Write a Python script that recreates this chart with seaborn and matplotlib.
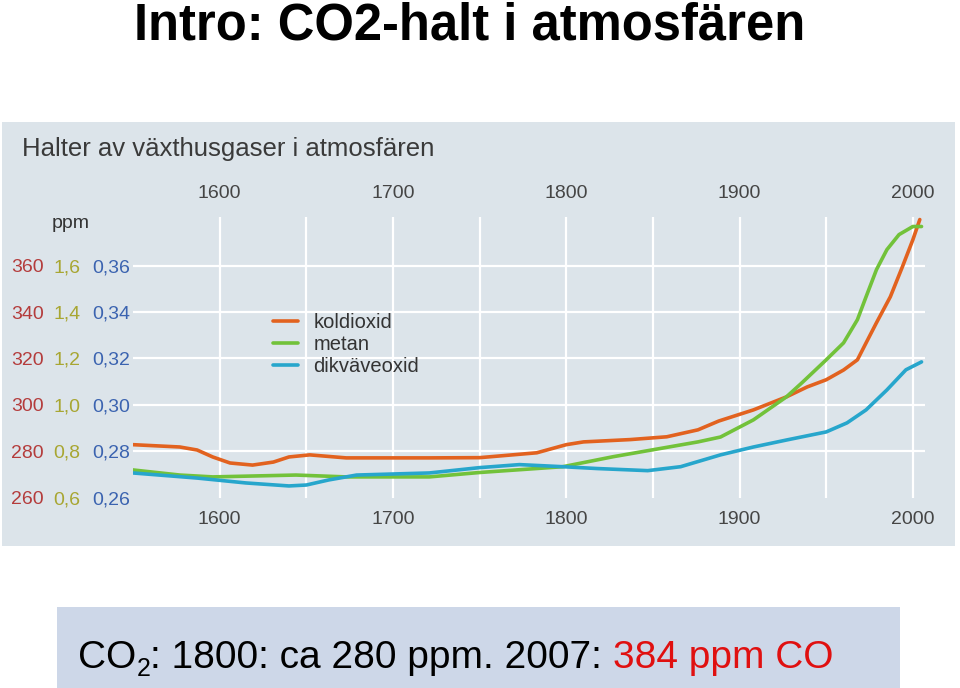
import matplotlib
matplotlib.use("Agg")
import matplotlib.pyplot as plt
from matplotlib.patches import Rectangle
import seaborn as sns

# koldioxid (ppm)
co2_years = [1550, 1577, 1587, 1596, 1606, 1619, 1631, 1640, 1652, 1673, 1702, 1721, 1750, 1783,
             1800, 1810, 1837, 1858, 1876, 1888, 1908, 1927, 1939, 1950, 1960, 1968, 1973, 1979,
             1987, 1994, 2000, 2004]
co2_ppm = [282.8, 281.8, 280.5, 277.5, 274.9, 274.0, 275.3, 277.5, 278.4, 277.1, 277.1, 277.1, 277.2, 279.3,
           282.8, 284.0, 285.0, 286.2, 289.2, 293.0, 297.8, 303.4, 307.7, 310.8, 315.0, 319.4, 326.7, 335.4,
           346.6, 359.6, 371.2, 379.9]

# metan (ppm)
ch4_years = [1550, 1577, 1596, 1644, 1673, 1721, 1750, 1798, 1827, 1850, 1876, 1889, 1908, 1927,
             1936, 1950, 1960, 1968, 1973, 1979, 1985, 1992, 2000, 2005]
ch4_ppm = [0.719, 0.697, 0.689, 0.697, 0.689, 0.689, 0.708, 0.733, 0.776, 0.806, 0.840, 0.861, 0.935, 1.034,
           1.095, 1.194, 1.267, 1.367, 1.466, 1.583, 1.669, 1.734, 1.769, 1.769]

# dikväveoxid (ppm)
n2o_years = [1550, 1587, 1615, 1640, 1650, 1663, 1679, 1721, 1750, 1773, 1798, 1818, 1847, 1866,
             1889, 1908, 1927, 1950, 1962, 1973, 1985, 1996, 2005]
n2o_ppm = [0.2706, 0.2684, 0.2663, 0.2650, 0.2654, 0.2676, 0.2697, 0.2706, 0.2729, 0.2742, 0.2733,
           0.2725, 0.2716, 0.2733, 0.2784, 0.2818, 0.2848, 0.2883, 0.2922, 0.2978, 0.3064, 0.3151, 0.3185]

co2_ticks = [260, 280, 300, 320, 340, 360]
ch4_ticks = [0.6, 0.8, 1.0, 1.2, 1.4, 1.6]
ch4_labels = ["0,6", "0,8", "1,0", "1,2", "1,4", "1,6"]
n2o_ticks = [0.26, 0.28, 0.30, 0.32, 0.34, 0.36]
n2o_labels = ["0,26", "0,28", "0,30", "0,32", "0,34", "0,36"]
year_ticks = [1600, 1700, 1800, 1900, 2000]
grid_years = [1600, 1650, 1700, 1750, 1800, 1850, 1900, 1950, 2000]

sns.set_theme(style="white")
plt.rcParams["font.family"] = ["Liberation Sans", "DejaVu Sans"]

W, H = 960, 688
fig = plt.figure(figsize=(9.6, 6.88), dpi=100)

def fx(px):
    return px / W

def fy(py):
    return 1 - py / H

panel_col = "#dce4ea"
fig.patches.append(Rectangle((fx(2), fy(546)), fx(953), 424 / H, transform=fig.transFigure,
                             facecolor=panel_col, edgecolor="none", zorder=-5))
fig.patches.append(Rectangle((fx(57), 0), fx(843), 81 / H, transform=fig.transFigure,
                             facecolor="#cdd7e8", edgecolor="none", zorder=-5))

fig.text(0.489, fy(40), "Intro: CO2-halt i atmosfären", ha="center", va="baseline",
         fontsize=36.5, fontweight="bold", color="black")
fig.text(fx(22), fy(156), "Halter av växthusgaser i atmosfären", ha="left", va="baseline",
         fontsize=18.5, color="#3a3a3a")
fig.text(fx(52), fy(224), "ppm", ha="left", va="center", fontsize=14, color="#333333")

ax = fig.add_axes([fx(133), fy(498), fx(925) - fx(133), (498 - 217) / H])
ax.set_facecolor("none")
ax2 = ax.twinx()
ax3 = ax.twinx()

lo, hi = 259.8, 381.0
ax.set_xlim(1550, 2007)
ax.set_ylim(lo, hi)
ax2.set_ylim(0.6 + (lo - 260) / 100, 0.6 + (hi - 260) / 100)
ax3.set_ylim(lo / 1000, hi / 1000)

lw = 2.6
sns.lineplot(x=co2_years, y=co2_ppm, ax=ax, color="#e2621f", linewidth=lw, label="koldioxid",
             legend=False, solid_joinstyle="round", solid_capstyle="round")
sns.lineplot(x=ch4_years, y=ch4_ppm, ax=ax2, color="#72c23a", linewidth=lw, label="metan",
             legend=False, solid_joinstyle="round", solid_capstyle="round")
sns.lineplot(x=n2o_years, y=n2o_ppm, ax=ax3, color="#27a6cc", linewidth=lw, label="dikväveoxid",
             legend=False, solid_joinstyle="round", solid_capstyle="round")

# grid (minor ticks, keep those that overlap major ticks)
ax.xaxis.remove_overlapping_locs = False
ax.yaxis.remove_overlapping_locs = False
ax.set_xticks(grid_years, minor=True)
ax.set_yticks(co2_ticks[1:], minor=True)
ax.grid(False)
ax.grid(True, which="minor", color="white", linewidth=1.6)
ax.set_axisbelow(True)

# x ticks bottom and top
ax.set_xticks(year_ticks)
ax.set_xticklabels([str(y) for y in year_ticks])
ax.tick_params(axis="x", which="both", length=0, pad=9, labelsize=14, labelcolor="#454545")
top = ax.secondary_xaxis("top")
top.set_xticks(year_ticks)
top.set_xticklabels([str(y) for y in year_ticks])
top.tick_params(length=0, pad=11, labelsize=14, labelcolor="#454545")
for s in top.spines.values():
    s.set_visible(False)

# three y scales on the left
ax.set_yticks(co2_ticks)
ax.set_yticklabels([str(v) for v in co2_ticks])
ax.tick_params(axis="y", which="both", length=0, pad=64, labelsize=14, labelcolor="#b43c3c")
ax2.yaxis.set_ticks_position("left")
ax2.set_yticks(ch4_ticks)
ax2.set_yticklabels(ch4_labels)
ax2.tick_params(axis="y", length=0, pad=38, labelsize=14, labelcolor="#a8a632")
ax3.yaxis.set_ticks_position("left")
ax3.set_yticks(n2o_ticks)
ax3.set_yticklabels(n2o_labels)
ax3.tick_params(axis="y", length=0, pad=2, labelsize=14, labelcolor="#3b63b0")

for a in (ax, ax2, ax3):
    a.set_xlabel("")
    a.set_ylabel("")
    for s in a.spines.values():
        s.set_visible(False)

handles = [ax.get_lines()[0], ax2.get_lines()[0], ax3.get_lines()[0]]
fig.legend(handles, ["koldioxid", "metan", "dikväveoxid"], loc="upper left",
           bbox_to_anchor=(fx(273), fy(313)), frameon=False, fontsize=14.5,
           handlelength=1.25, handletextpad=0.75, labelspacing=0.15,
           borderpad=0, borderaxespad=0, labelcolor="#333333")

# bottom caption
base = fy(668)
t1 = fig.text(fx(78), base, "CO", ha="left", va="baseline", fontsize=28, color="black")
t2 = ax3.annotate("2", xy=(1, base - 8 / H), xycoords=(t1, "figure fraction"),
                  ha="left", va="baseline", fontsize=18, color="black", annotation_clip=False)
t3 = ax3.annotate(": 1800: ca 280 ppm. 2007:", xy=(1, base), xycoords=(t2, "figure fraction"),
                  ha="left", va="baseline", fontsize=28, color="black", annotation_clip=False)
ax3.annotate("384 ppm CO", xy=(1, base), xycoords=(t3, "figure fraction"),
             xytext=(7.8, 0), textcoords="offset points",
             ha="left", va="baseline", fontsize=28, color="#e01010", annotation_clip=False)

fig.savefig("out.png", dpi=100)
